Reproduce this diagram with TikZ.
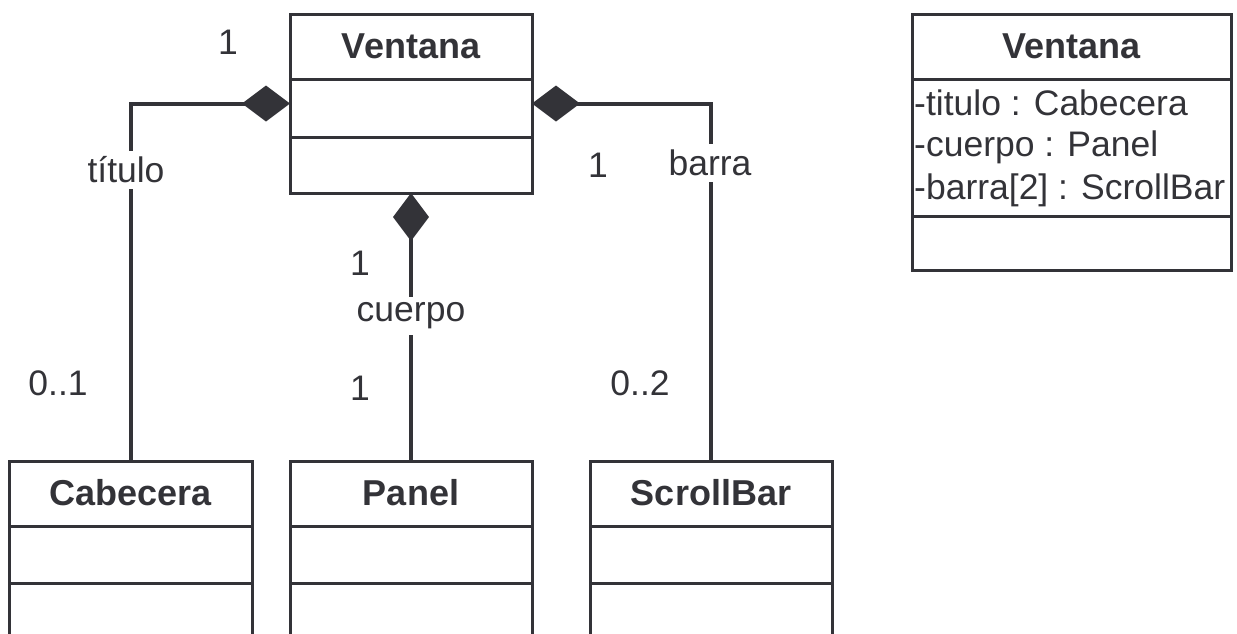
\documentclass[tikz,border=0pt]{standalone}
\usepackage{fontspec}
\setmainfont{Liberation Sans}
\usetikzlibrary{arrows.meta}
\definecolor{ink}{HTML}{333338}
\begin{document}
\begin{tikzpicture}[x=1pt,y=-1pt,
  font=\fontsize{35.5}{42}\selectfont, text=ink,
  box/.style={draw=ink, line width=3pt, inner sep=0pt, outer sep=0pt},
  sep/.style={draw=ink, line width=3pt},
  title/.style={font=\fontsize{36}{42}\selectfont\bfseries, inner sep=0pt},
  attr/.style={anchor=west, inner sep=0pt},
  conn/.style={draw=ink, line width=4pt},
  comp/.style={{Diamond[length=48pt,width=36pt]}-},
  lbl/.style={fill=white, inner sep=6pt},
  mult/.style={inner sep=0pt}]
\useasboundingbox (0,0) rectangle (1237,633);
\clip (0,0) rectangle (1237,633);

% Left Ventana class
\node[box, minimum width=242pt, minimum height=179pt] (ventana) at (411,103.5) {};
\draw[sep] (ventana.north west) ++(0,65) -- ++(242,0);
\draw[sep] (ventana.north west) ++(0,123) -- ++(242,0);
\node[title] (vtitle) at ([yshift=-32.5pt]ventana.north) {Ventana};

% Bottom classes
\node[box, minimum width=243pt, minimum height=219pt] (cabecera) at (130.5,570.5) {};
\draw[sep] (cabecera.north west) ++(0,65) -- ++(243,0);
\draw[sep] (cabecera.north west) ++(0,122) -- ++(243,0);
\node[title] (ctitle) at ([yshift=-32pt]cabecera.north) {Cabecera};

\node[box, minimum width=242pt, minimum height=219pt] (panel) at (411,570.5) {};
\draw[sep] (panel.north west) ++(0,65) -- ++(242,0);
\draw[sep] (panel.north west) ++(0,122) -- ++(242,0);
\node[title] (ptitle) at ([yshift=-32pt]panel.north) {Panel};

\node[box, minimum width=242pt, minimum height=219pt] (scrollbar) at (711,570.5) {};
\draw[sep] (scrollbar.north west) ++(0,65) -- ++(242,0);
\draw[sep] (scrollbar.north west) ++(0,122) -- ++(242,0);
\node[title] (stitle) at ([yshift=-32pt]scrollbar.north) {ScrollBar};

% Right Ventana class
\node[box, minimum width=319pt, minimum height=256pt] (ventana2) at (1071.5,142) {};
\draw[sep] (ventana2.north west) ++(0,65) -- ++(319,0);
\draw[sep] (ventana2.north west) ++(0,202) -- ++(319,0);
\node[title] (v2title) at ([yshift=-32.5pt]ventana2.north) {Ventana};
\node[attr] (a1) at (914,103) {-titulo : Cabecera};
\node[attr] (a2) at (914,147) {-cuerpo : Panel};
\node[attr] (a3) at (914,190) {-barra[2] : ScrollBar};

% Connectors
\draw[conn, comp] (ventana.west) -| (cabecera.north);
\draw[conn, comp] (ventana.south) -- (panel.north);
\draw[conn, comp] (ventana.east) -| (scrollbar.north);

% Role labels
\node[lbl] (ltitulo) at (126,170) {título};
\node[lbl] (lcuerpo) at (411,316) {cuerpo};
\node[lbl] (lbarra) at (710,163) {barra};

% Multiplicities
\node[mult] (m1) at (228,42) {1};
\node[mult] (m2) at (598,165) {1};
\node[mult] (m3) at (360,263) {1};
\node[mult] (m4) at (360,388) {1};
\node[mult] (m5) at (58,383) {0..1};
\node[mult] (m6) at (640,383) {0..2};
\end{tikzpicture}
\end{document}
